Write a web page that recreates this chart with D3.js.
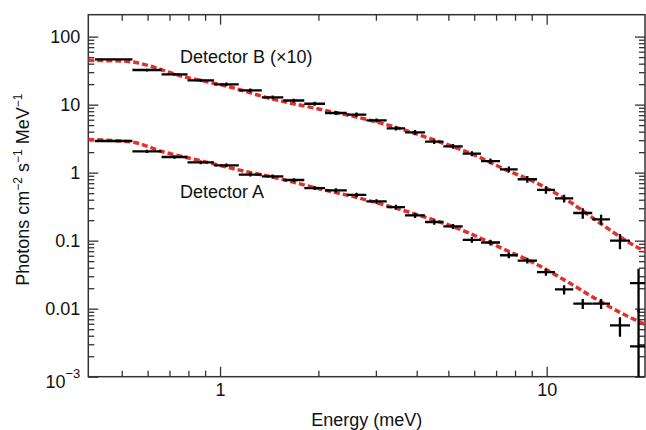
<!DOCTYPE html>
<html>
<head>
<meta charset="utf-8">
<style>
  body { margin: 0; background: #fff; }
  svg { display: block; font-family: "Liberation Sans", Arial, sans-serif; }
</style>
</head>
<body>
<div id="chart"></div>
<script src="https://d3js.org/d3.v7.min.js"></script>
<script>
// energy bin edges (meV), same binning for both detectors
const binEdges = [0.414, 0.539, 0.662, 0.795, 0.958, 1.141, 1.342, 1.562, 1.811, 2.096,
  2.443, 2.804, 3.237, 3.684, 4.242, 4.827, 5.534, 6.294, 7.195, 8.151,
  9.339, 10.60, 12.06, 13.79, 15.62, 17.99, 20.3];

// Detector B (already x10)
const detB = [46.4, 32.3, 27.9, 22.8, 19.9, 16.2, 12.8, 11.5, 10.3, 7.53,
  7.13, 5.88, 4.48, 3.92, 2.86, 2.44, 1.90, 1.48, 1.12, 0.80,
  0.56, 0.42, 0.255, 0.206, 0.10, 0.0238];
const detBErr = [1.0, 1.5, 1.4, 1.3, 1.2, 1.0, 0.8, 0.75, 0.7, 0.5,
  0.5, 0.4, 0.32, 0.3, 0.22, 0.2, 0.16, 0.13, 0.11, 0.09,
  0.07, 0.055, 0.045, 0.035, 0.025, 0.015];

// Detector A
const detA = [2.92, 2.06, 1.70, 1.42, 1.28, 0.935, 0.88, 0.78, 0.594, 0.55,
  0.47, 0.378, 0.312, 0.236, 0.188, 0.162, 0.103, 0.094, 0.061, 0.051,
  0.0345, 0.0192, 0.0119, 0.0119, 0.00568, 0.0028];
const detAErr = [0.05, 0.12, 0.10, 0.09, 0.08, 0.06, 0.06, 0.05, 0.04, 0.04,
  0.035, 0.03, 0.025, 0.02, 0.016, 0.014, 0.01, 0.009, 0.006, 0.005,
  0.004, 0.003, 0.002, 0.002, 0.0018, 0.0068];

// model curves (red dashed)
const modelBEnergy = [0.395, 0.516, 0.781, 1.073, 1.373, 2.096, 2.799, 3.556, 4.713, 5.824,
  7.365, 9.32, 11.79, 14.9, 18.86, 20.0];
const modelB = [44.8, 43.3, 25.5, 18.2, 12.9, 8.25, 6.1, 4.44, 2.82, 1.94,
  1.145, 0.703, 0.37, 0.168, 0.0805, 0.0696];
const modelAEnergy = [0.395, 0.537, 0.663, 0.869, 1.138, 1.581, 1.886, 2.683, 3.633, 5.824,
  7.195, 9.32, 11.79, 14.73, 16.76, 20.0];
const modelA = [3.06, 2.82, 2.05, 1.50, 1.10, 0.78, 0.625, 0.42, 0.279, 0.128,
  0.0797, 0.0448, 0.0236, 0.0124, 0.00883, 0.00588];

const xTicks = [1, 10];
const xTickLabels = ["1", "10"];
const yTicks = [0.001, 0.01, 0.1, 1, 10, 100];
const yTickLabels = ["10^\u22123", "0.01", "0.1", "1", "10", "100"];

const width = 646, height = 430;
const margin = {top: 14.7, right: 1, bottom: 53.3, left: 88.3};

const x = d3.scaleLog().domain([0.395, 20]).range([margin.left, width - margin.right]);
const y = d3.scaleLog().domain([0.001, 210]).range([height - margin.bottom, margin.top]);

const svg = d3.select("#chart").append("svg")
  .attr("width", width).attr("height", height);

svg.append("clipPath").attr("id", "plot")
  .append("rect")
  .attr("x", margin.left).attr("y", margin.top)
  .attr("width", width - margin.left - margin.right)
  .attr("height", height - margin.top - margin.bottom);

// minor tick values
const xMinor = [], yMinor = [];
[0.1, 1, 10].forEach(d => { for (let k = 2; k < 10; k++) { const v = k * d; if (v > 0.41 && v < 19.9) xMinor.push(v); } });
[0.001, 0.01, 0.1, 1, 10, 100].forEach(d => { for (let k = 2; k < 10; k++) { const v = k * d; if (v < 199) yMinor.push(v); } });

const axisColor = "#333";
function styleAxis(g) {
  g.select(".domain").remove();
  g.selectAll(".tick line").attr("stroke", axisColor).attr("stroke-width", 1.3);
  g.selectAll(".tick text").attr("fill", "#111").attr("font-size", 18)
    .attr("font-family", "'Liberation Sans', Arial, sans-serif");
}

const bottomY = height - margin.bottom, rightX = width - margin.right;

svg.append("g").attr("transform", `translate(0,${bottomY})`)
  .call(d3.axisBottom(x).tickValues(xTicks).tickSize(-10).tickPadding(7)
    .tickFormat((d, i) => xTickLabels[i]))
  .call(styleAxis);
svg.append("g").attr("transform", `translate(0,${bottomY})`)
  .call(d3.axisBottom(x).tickValues(xMinor).tickSize(-6).tickFormat(""))
  .call(styleAxis);
svg.append("g").attr("transform", `translate(0,${margin.top})`)
  .call(d3.axisTop(x).tickValues(xTicks).tickSize(-10).tickFormat(""))
  .call(styleAxis);
svg.append("g").attr("transform", `translate(0,${margin.top})`)
  .call(d3.axisTop(x).tickValues(xMinor).tickSize(-6).tickFormat(""))
  .call(styleAxis);

const leftAxis = svg.append("g").attr("transform", `translate(${margin.left},0)`)
  .call(d3.axisLeft(y).tickValues(yTicks).tickSize(-10).tickPadding(8)
    .tickFormat((d, i) => yTickLabels[i]))
  .call(styleAxis);
svg.append("g").attr("transform", `translate(${margin.left},0)`)
  .call(d3.axisLeft(y).tickValues(yMinor).tickSize(-6).tickFormat(""))
  .call(styleAxis);
svg.append("g").attr("transform", `translate(${rightX},0)`)
  .call(d3.axisRight(y).tickValues(yTicks).tickSize(-10).tickFormat(""))
  .call(styleAxis);
svg.append("g").attr("transform", `translate(${rightX},0)`)
  .call(d3.axisRight(y).tickValues(yMinor).tickSize(-6).tickFormat(""))
  .call(styleAxis);

// power-of-ten label with superscript
leftAxis.selectAll(".tick text").each(function() {
  const t = d3.select(this), s = t.text();
  if (s.includes("^")) {
    const [base, exp] = s.split("^");
    t.text("").attr("dy", "0.6em");
    t.append("tspan").text(base);
    t.append("tspan").attr("font-size", 13).attr("dy", "-0.75em").text(exp);
  }
});

// frame
svg.append("rect")
  .attr("x", margin.left).attr("y", margin.top)
  .attr("width", rightX - margin.left).attr("height", bottomY - margin.top)
  .attr("fill", "none").attr("stroke", axisColor).attr("stroke-width", 1.5);

const plot = svg.append("g").attr("clip-path", "url(#plot)");

// model curves
const line = d3.line().x(d => x(d[0])).y(d => y(d[1])).curve(d3.curveMonotoneX);
[[modelBEnergy, modelB], [modelAEnergy, modelA]].forEach(([es, fs]) => {
  plot.append("path")
    .datum(es.map((e, i) => [e, fs[i]]))
    .attr("d", line)
    .attr("fill", "none")
    .attr("stroke", "#e3302b")
    .attr("stroke-width", 3.5)
    .attr("stroke-dasharray", "6,3");
});

// data with error bars
const yMin = y.domain()[0];
[[detB, detBErr], [detA, detAErr]].forEach(([vals, errs]) => {
  const pts = vals.map((v, i) => ({
    e0: binEdges[i], e1: binEdges[i + 1], v: v, err: errs[i]
  }));
  const g = plot.append("g").attr("stroke", "#000").attr("stroke-width", 2.3);
  g.selectAll("line.h").data(pts).join("line").attr("class", "h")
    .attr("x1", d => x(d.e0)).attr("x2", d => x(d.e1))
    .attr("y1", d => y(d.v)).attr("y2", d => y(d.v));
  g.selectAll("line.v").data(pts).join("line").attr("class", "v")
    .attr("x1", d => x(Math.sqrt(d.e0 * d.e1))).attr("x2", d => x(Math.sqrt(d.e0 * d.e1)))
    .attr("y1", d => y(Math.max(d.v - d.err, yMin / 2)))
    .attr("y2", d => y(d.v + d.err));
});

// labels
svg.append("text").attr("x", 180).attr("y", 63)
  .attr("font-size", 18).attr("fill", "#111").text("Detector B (\u00d710)");
svg.append("text").attr("x", 180).attr("y", 198)
  .attr("font-size", 18).attr("fill", "#111").text("Detector A");

svg.append("text")
  .attr("x", (margin.left + rightX) / 2).attr("y", 426)
  .attr("text-anchor", "middle").attr("font-size", 18).attr("fill", "#111")
  .text("Energy (meV)");

const yTitle = svg.append("text")
  .attr("transform", `translate(29,${(margin.top + bottomY) / 2 - 6}) rotate(-90)`)
  .attr("text-anchor", "middle").attr("font-size", 18).attr("fill", "#111");
yTitle.append("tspan").text("Photons cm");
yTitle.append("tspan").attr("font-size", 12).attr("dy", -7).text("\u22122");
yTitle.append("tspan").attr("dy", 7).text(" s");
yTitle.append("tspan").attr("font-size", 12).attr("dy", -7).text("\u22121");
yTitle.append("tspan").attr("dy", 7).text(" MeV");
yTitle.append("tspan").attr("font-size", 12).attr("dy", -7).text("\u22121");
</script>
</body>
</html>
